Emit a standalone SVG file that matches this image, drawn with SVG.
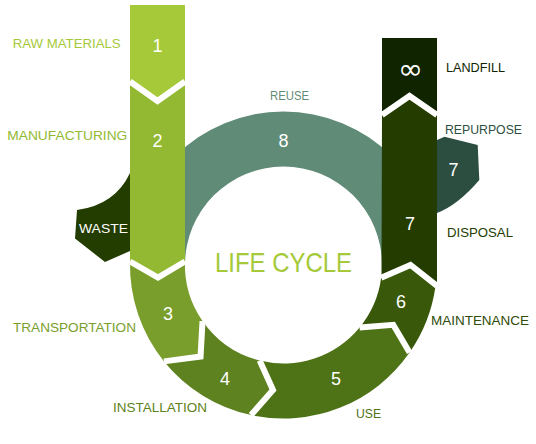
<svg xmlns="http://www.w3.org/2000/svg" width="536" height="444" viewBox="0 0 536 444">
<style>
.lbl{font-family:"Liberation Sans",Arial,sans-serif;font-size:13.5px;}
.num{font-family:"Liberation Sans",Arial,sans-serif;font-size:18px;fill:#fff;text-anchor:middle;}
.sep{fill:none;stroke:#fff;stroke-width:6;stroke-linejoin:miter;stroke-linecap:butt;}
</style>
<rect width="536" height="444" fill="#fff"/>
<g id="reuse">
<path d="M130,265 A153.5,153.5 0 0 1 437,265 L382,265 A98.5,98.5 0 0 0 185,265 Z" fill="#5f8b77"/>
<text class="num" x="283.5" y="147">8</text>
<text class="lbl" x="270" y="100" textLength="39" lengthAdjust="spacingAndGlyphs" fill="#5f8b77">REUSE</text>
</g>
<g id="waste">
<path d="M130,173 Q115,205 77,210 L75,238.5 L105,262 L130,251 Z" fill="#233c00"/>
<text class="lbl" x="79" y="233" textLength="49" lengthAdjust="spacingAndGlyphs" fill="#fff">WASTE</text>
</g>
<g id="repurpose">
<path d="M437,140 L444.5,136.7 L477.7,145 L479.3,180 Q458,205 437,213 Z" fill="#2c4e40"/>
<text class="num" x="453.5" y="176">7</text>
<text class="lbl" x="445" y="134" textLength="77" lengthAdjust="spacingAndGlyphs" fill="#2c4e40">REPURPOSE</text>
</g>
<g id="step3">
<path d="M130,261.5 A153.5,153.5 0 0 0 164.04,361.39 L200.55,356.49 L202.52,321.07 A98.5,98.5 0 0 1 185,261.5 L158,277.5 Z" fill="#7a9e2c"/>
<text class="num" x="168" y="320">3</text>
<text class="lbl" x="13" y="332" textLength="123" lengthAdjust="spacingAndGlyphs" fill="#7a9e2c">TRANSPORTATION</text>
</g>
<g id="step4">
<path d="M164.04,361.39 A153.5,153.5 0 0 0 251.06,415.03 L273.01,389.96 L259.67,360.57 A98.5,98.5 0 0 1 202.52,321.07 L200.55,356.49 Z" fill="#5e8220"/>
<text class="num" x="225" y="385">4</text>
<text class="lbl" x="113" y="412" textLength="94" lengthAdjust="spacingAndGlyphs" fill="#5e8220">INSTALLATION</text>
</g>
<g id="step5">
<path d="M251.06,415.03 A153.5,153.5 0 0 0 409.55,352.6 L393.25,324.84 L359.61,327.52 A98.5,98.5 0 0 1 259.67,360.57 L273.01,389.96 Z" fill="#4e7216"/>
<text class="num" x="336" y="385">5</text>
<text class="lbl" x="356" y="418" textLength="25" lengthAdjust="spacingAndGlyphs" fill="#4e7216">USE</text>
</g>
<g id="step6">
<path d="M409.55,352.6 A153.5,153.5 0 0 0 435.58,285.83 L410.5,265 L381.16,277.86 A98.5,98.5 0 0 1 359.61,327.52 L393.25,324.84 Z" fill="#39580a"/>
<text class="num" x="401" y="308">6</text>
<text class="lbl" x="431" y="325" textLength="98" lengthAdjust="spacingAndGlyphs" fill="#2f4c08">MAINTENANCE</text>
</g>
<g id="step1">
<path d="M130,5 L185,5 L185,81.5 L157.5,101 L130,81.5 Z" fill="#a5c939"/>
<text class="num" x="157.5" y="52">1</text>
<text class="lbl" x="12.7" y="48" textLength="108" lengthAdjust="spacingAndGlyphs" fill="#a5c939">RAW MATERIALS</text>
</g>
<g id="step2">
<path d="M130,81.5 L157.5,101 L185,81.5 L185,261.5 L158,277.5 L130,261.5 Z" fill="#93b932"/>
<text class="num" x="157.5" y="147">2</text>
<text class="lbl" x="7.3" y="140" textLength="120" lengthAdjust="spacingAndGlyphs" fill="#93b932">MANUFACTURING</text>
</g>
<g id="step7">
<path d="M382,115 L409.5,96 L437,115 L437,285.83 L410.5,265 L381.5,277.86 Z" fill="#243c00"/>
<text class="num" x="410" y="230">7</text>
<text class="lbl" x="447" y="237" textLength="66" lengthAdjust="spacingAndGlyphs" fill="#243c00">DISPOSAL</text>
</g>
<g id="landfill">
<path d="M382,38 L437,38 L437,115 L409.5,96 L382,115 Z" fill="#102400"/>
<text x="410.5" y="78.5" text-anchor="middle" textLength="25" lengthAdjust="spacingAndGlyphs" style="font-family:'DejaVu Sans',sans-serif;font-size:29px;fill:#fff">∞</text>
<text class="lbl" x="446" y="72" textLength="59" lengthAdjust="spacingAndGlyphs" fill="#102400">LANDFILL</text>
</g>
<g id="separators">
<path class="sep" d="M130,81.5 L157.5,101 L185,81.5"/>
<path class="sep" d="M130,261.5 L158,277.5 L185,261.5"/>
<path class="sep" d="M164.04,361.39 L200.55,356.49 L202.52,321.07"/>
<path class="sep" d="M251.06,415.03 L273.01,389.96 L259.67,360.57"/>
<path class="sep" d="M409.55,352.6 L393.25,324.84 L359.61,327.52"/>
<path class="sep" d="M437,285.83 L410.5,265 L381.16,277.86"/>
<path class="sep" d="M382,115 L409.5,96 L437,115"/>
</g>
<g id="title">
<text x="215" y="272" textLength="137" lengthAdjust="spacingAndGlyphs" style="font-family:'Liberation Sans',Arial,sans-serif;font-size:28px;fill:#a5c939">LIFE CYCLE</text>
</g>
</svg>
